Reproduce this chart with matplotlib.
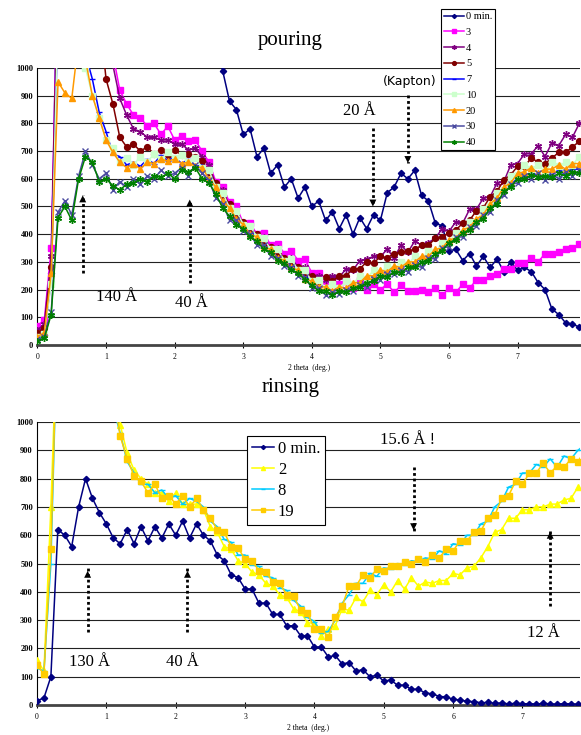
import numpy as np
import matplotlib.pyplot as plt

plt.rcParams['font.family'] = ['Liberation Serif', 'DejaVu Serif']

# scan grid, 2 theta in degrees
two_theta = np.round(np.arange(0, 8.0, 0.1), 1)

# ---- pouring ----
pour_labels = ["0 min.", "3", "4", "5", "7", "10", "20", "30", "40"]
pour_0 = [20, 35, 260, 1500, 1500, 1500, 1500, 1500, 1500, 1500,
          1500, 1500, 1500, 1500, 1500, 1500, 1500, 1500, 1500, 1500,
          1500, 1500, 1500, 1500, 1500, 1500, 1100, 990, 880, 850,
          760, 780, 680, 710, 620, 650, 570, 600, 530, 570,
          500, 520, 450, 480, 420, 470, 400, 460, 420, 470,
          450, 550, 570, 620, 600, 630, 540, 520, 440, 430,
          340, 345, 305, 330, 285, 320, 280, 310, 265, 300,
          270, 280, 265, 225, 200, 130, 110, 80, 75, 65]
pour_3 = [70, 90, 350, 1400, 1400, 1400, 1400, 1400, 1400, 1400,
          1300, 1050, 920, 870, 830, 820, 790, 800, 760, 790,
          740, 755, 735, 740, 700, 660, 590, 570, 515, 500,
          440, 440, 400, 405, 360, 365, 330, 340, 305, 310,
          260, 260, 225, 235, 220, 230, 205, 235, 200, 220,
          200, 220, 190, 215, 195, 195, 200, 190, 205, 180,
          205, 190, 220, 205, 235, 235, 250, 255, 275, 275,
          295, 295, 315, 300, 330, 330, 335, 345, 350, 365]
pour_4 = [55, 75, 320, 1300, 1300, 1300, 1300, 1300, 1300, 1300,
          1200, 1010, 890, 830, 780, 770, 750, 750, 740, 740,
          725, 725, 705, 710, 680, 650, 580, 560, 500, 485,
          435, 430, 385, 390, 345, 350, 310, 315, 280, 280,
          245, 250, 235, 250, 245, 275, 270, 305, 310, 320,
          320, 345, 315, 360, 335, 375, 360, 370, 385, 420,
          410, 445, 440, 490, 490, 530, 535, 585, 590, 650,
          655, 690, 690, 720, 680, 730, 720, 760, 750, 800]
pour_5 = [45, 60, 280, 1300, 1300, 1300, 1300, 1300, 1300, 1200,
          960, 870, 750, 715, 725, 700, 715, 690, 705, 685,
          705, 685, 690, 680, 665, 625, 585, 540, 510, 465,
          445, 415, 400, 365, 355, 325, 315, 290, 280, 255,
          250, 230, 245, 230, 250, 250, 275, 275, 300, 295,
          320, 315, 330, 335, 340, 345, 360, 360, 385, 390,
          405, 415, 440, 450, 485, 495, 535, 555, 595, 615,
          645, 645, 675, 660, 655, 675, 695, 695, 715, 735]
pour_7 = [30, 45, 230, 1200, 1150, 1100, 1150, 1050, 960, 840,
          770, 690, 680, 650, 660, 645, 670, 655, 685, 665,
          680, 655, 670, 645, 650, 600, 575, 520, 500, 455,
          440, 405, 395, 355, 350, 315, 310, 285, 270, 245,
          230, 210, 210, 195, 210, 205, 225, 225, 245, 245,
          265, 260, 280, 275, 295, 295, 315, 315, 340, 345,
          375, 380, 405, 415, 450, 460, 500, 520, 560, 575,
          605, 610, 625, 610, 615, 615, 630, 615, 635, 635]
pour_10 = [30, 40, 220, 1200, 1100, 1050, 1100, 1000, 900, 820,
           740, 710, 660, 675, 650, 680, 660, 690, 670, 695,
           675, 685, 660, 675, 640, 630, 570, 550, 495, 485,
           435, 430, 390, 385, 345, 345, 305, 310, 270, 270,
           230, 235, 205, 220, 205, 230, 220, 250, 240, 270,
           260, 285, 275, 300, 290, 320, 310, 340, 335, 370,
           370, 405, 405, 445, 445, 490, 500, 550, 560, 610,
           615, 650, 635, 650, 625, 660, 645, 660, 650, 680]
pour_20 = [30, 45, 260, 950, 910, 890, 1100, 1030, 900, 820,
           740, 695, 660, 640, 655, 635, 660, 655, 670, 665,
           670, 655, 660, 645, 640, 600, 570, 520, 495, 455,
           435, 400, 390, 355, 345, 315, 305, 280, 270, 240,
           230, 210, 210, 195, 210, 205, 225, 225, 250, 250,
           270, 265, 285, 280, 300, 300, 320, 320, 345, 350,
           380, 385, 415, 425, 455, 470, 510, 530, 570, 585,
           620, 625, 640, 620, 635, 635, 650, 635, 655, 655]
pour_30 = [20, 30, 120, 480, 520, 470, 610, 700, 650, 600,
           620, 560, 590, 570, 600, 580, 610, 600, 630, 610,
           620, 640, 610, 650, 620, 595, 530, 510, 450, 450,
           410, 400, 360, 360, 320, 315, 285, 280, 250, 245,
           205, 205, 180, 190, 185, 200, 195, 215, 210, 240,
           235, 255, 255, 270, 265, 290, 280, 315, 310, 350,
           355, 390, 390, 425, 430, 470, 480, 525, 540, 580,
           585, 610, 600, 620, 595, 615, 600, 625, 610, 630]
pour_40 = [15, 25, 110, 460, 500, 450, 600, 680, 660, 590,
           600, 575, 560, 580, 585, 600, 590, 610, 605, 620,
           600, 630, 625, 640, 600, 585, 545, 495, 465, 435,
           420, 390, 375, 345, 335, 305, 295, 270, 260, 235,
           215, 195, 195, 180, 195, 190, 205, 210, 225, 230,
           250, 245, 265, 260, 280, 280, 300, 305, 330, 340,
           370, 380, 405, 415, 445, 455, 495, 510, 555, 570,
           600, 600, 615, 605, 610, 605, 620, 610, 625, 620]
pour_series = [pour_0, pour_3, pour_4, pour_5, pour_7, pour_10, pour_20, pour_30, pour_40]

# ---- rinsing ----
rinse_labels = ["0 min.", "2", "8", "19"]
rinse_0 = [15, 25, 100, 620, 600, 560, 700, 800, 730, 680,
           640, 590, 570, 620, 570, 630, 580, 630, 590, 640,
           600, 650, 590, 640, 600, 580, 530, 510, 460, 450,
           410, 410, 360, 360, 320, 320, 280, 280, 245, 245,
           205, 205, 170, 175, 145, 150, 120, 125, 100, 105,
           85, 88, 70, 70, 55, 56, 42, 40, 30, 29,
           20, 18, 13, 12, 8, 9, 6, 7, 4, 6,
           4, 5, 3, 6, 4, 3, 5, 4, 3, 4]
rinse_2 = [160, 120, 700, 1400, 1400, 1400, 1400, 1400, 1400, 1400,
           1400, 1300, 990, 890, 830, 800, 780, 750, 750, 720,
           750, 710, 710, 710, 690, 630, 610, 560, 550, 510,
           500, 470, 460, 430, 420, 390, 380, 340, 330, 290,
           290, 245, 270, 280, 340, 335, 380, 365, 405, 390,
           425, 400, 440, 410, 450, 420, 435, 430, 440, 440,
           465, 460, 485, 490, 520, 560, 610, 620, 660, 660,
           690, 690, 700, 700, 710, 710, 725, 730, 770, 770]
rinse_8 = [130, 120, 500, 1400, 1400, 1400, 1400, 1400, 1400, 1400,
           1400, 1050, 960, 860, 820, 780, 780, 750, 760, 730,
           740, 710, 730, 720, 700, 650, 630, 585, 575, 530,
           530, 495, 490, 455, 450, 415, 405, 370, 350, 310,
           295, 255, 260, 300, 360, 390, 430, 430, 465, 455,
           485, 480, 500, 495, 510, 505, 520, 515, 545, 535,
           570, 565, 600, 600, 640, 650, 700, 720, 770, 780,
           820, 820, 850, 840, 870, 840, 880, 870, 900, 920]
rinse_19 = [140, 110, 550, 1400, 1400, 1400, 1400, 1400, 1400, 1400,
            1400, 1100, 950, 870, 810, 790, 750, 780, 730, 740,
            710, 740, 700, 730, 690, 660, 620, 610, 560, 555,
            515, 510, 475, 470, 435, 430, 390, 385, 335, 325,
            270, 270, 240, 310, 350, 420, 420, 460, 450, 480,
            475, 490, 490, 505, 500, 515, 505, 530, 520, 550,
            545, 580, 580, 610, 615, 660, 670, 730, 740, 790,
            780, 820, 820, 855, 820, 845, 840, 870, 860, 900]
rinse_series = [rinse_0, rinse_2, rinse_8, rinse_19]

pour_styles = [("#000080", "D", 3.2), ("#FF00FF", "s", 4.2), ("#800080", (6, 2, 0), 5),
               ("#800000", "o", 4.2), ("#0000FF", "_", 5), ("#CCFFCC", "s", 4.2),
               ("#FF9900", "^", 4.5), ("#4B4BA0", "x", 4.2), ("#008000", (6, 2, 0), 5)]
rinse_styles = [("#000080", "D", 3.2), ("#FFFF00", "^", 4.5),
                ("#00CCFF", "_", 5), ("#FFCC00", "s", 4.2)]

fig = plt.figure(figsize=(5.81, 7.35), dpi=100)
ax1 = fig.add_axes([0.0645, 0.5306, 0.9338, 0.3769])
ax2 = fig.add_axes([0.0637, 0.0408, 0.9346, 0.3850])


def style_axes(ax, xmax):
    ax.set_xlim(0, xmax)
    ax.set_ylim(0, 1000)
    ax.set_yticks(range(0, 1001, 100))
    ax.set_xticks(range(0, 8))
    for yv in range(100, 1001, 100):
        ax.axhline(yv, color="#222222", lw=0.8, zorder=1)
    for s in ["top", "right"]:
        ax.spines[s].set_visible(False)
    ax.spines["bottom"].set_color("#444444")
    ax.spines["bottom"].set_linewidth(2)
    ax.spines["left"].set_linewidth(0.8)
    ax.tick_params(axis="y", length=0, labelsize=6, pad=3)
    ax.tick_params(axis="x", direction="inout", length=4, labelsize=5.5, pad=4)
    for t in ax.get_yticklabels():
        t.set_fontweight("bold")
    ax.set_xlabel("2 theta  (deg.)", fontsize=5.5, labelpad=2)


style_axes(ax1, 7.91)
style_axes(ax2, 7.83)

pour_lines = []
for ys, lab, (c, m, ms) in zip(pour_series, pour_labels, pour_styles):
    ln, = ax1.plot(two_theta, ys, color=c, marker=m, markersize=ms, lw=1.1,
                   label=lab, zorder=3)
    pour_lines.append(ln)

rinse_lines = []
for ys, lab, (c, m, ms) in zip(rinse_series, rinse_labels, rinse_styles):
    ln, = ax2.plot(two_theta, ys, color=c, marker=m, markersize=ms, lw=1.1,
                   label=lab, zorder=3)
    rinse_lines.append(ln)

fig.text(0.5, 0.945, "pouring", ha="center", va="center", fontsize=15)
fig.text(0.5, 0.473, "rinsing", ha="center", va="center", fontsize=15)


def dotted_arrow(ax, x, y0, y1):
    ax.plot([x, x], [y0, y1], color="black", lw=2, ls=(0, (1, 1)), zorder=5)
    ax.annotate("", xy=(x, y1), xytext=(x, y1 - 20 * np.sign(y1 - y0)),
                arrowprops=dict(arrowstyle="-|>,head_width=0.25,head_length=0.5",
                                color="black", lw=0), zorder=5)


dotted_arrow(ax1, 0.66, 260, 540)
dotted_arrow(ax1, 2.22, 225, 525)
dotted_arrow(ax1, 4.89, 783, 500)
dotted_arrow(ax1, 5.40, 903, 657)
ax1.text(1.16, 175, "140 Å", fontsize=12, ha="center", va="center", zorder=6)
ax1.text(2.24, 152, "40 Å", fontsize=12, ha="center", va="center", zorder=6)
ax1.text(4.69, 845, "20 Å", fontsize=12, ha="center", va="center", zorder=6)
ax1.text(5.42, 950, "(Kapton)", fontsize=9, ha="center", va="center",
         family="DejaVu Sans", zorder=6)

dotted_arrow(ax2, 0.73, 258, 484)
dotted_arrow(ax2, 2.17, 258, 484)
dotted_arrow(ax2, 5.43, 841, 608)
dotted_arrow(ax2, 7.40, 350, 622)
ax2.text(0.75, 152, "130 Å", fontsize=12, ha="center", va="center", zorder=6)
ax2.text(2.10, 152, "40 Å", fontsize=12, ha="center", va="center", zorder=6)
ax2.text(5.34, 936, "15.6 Å !", fontsize=12, ha="center", va="center", zorder=6)
ax2.text(7.30, 254, "12 Å", fontsize=12, ha="center", va="center", zorder=6)

leg1 = fig.legend(handles=pour_lines, loc="upper left", bbox_to_anchor=(0.759, 0.988),
                  fontsize=7.5, labelspacing=0.62, handlelength=1.9, handletextpad=0.2,
                  borderpad=0.3, borderaxespad=0, fancybox=False, framealpha=1,
                  edgecolor="black", markerscale=0.65)
leg1.get_frame().set_linewidth(0.8)

leg2 = fig.legend(handles=rinse_lines, loc="upper left", bbox_to_anchor=(0.425, 0.407),
                  fontsize=12, labelspacing=0.3, handlelength=1.3, handletextpad=0.25,
                  borderpad=0.3, borderaxespad=0, fancybox=False, framealpha=1,
                  edgecolor="black", markerscale=0.65)
leg2.get_frame().set_linewidth(0.8)
leg2.set_zorder(10)

fig.savefig("out.png", dpi=100)
